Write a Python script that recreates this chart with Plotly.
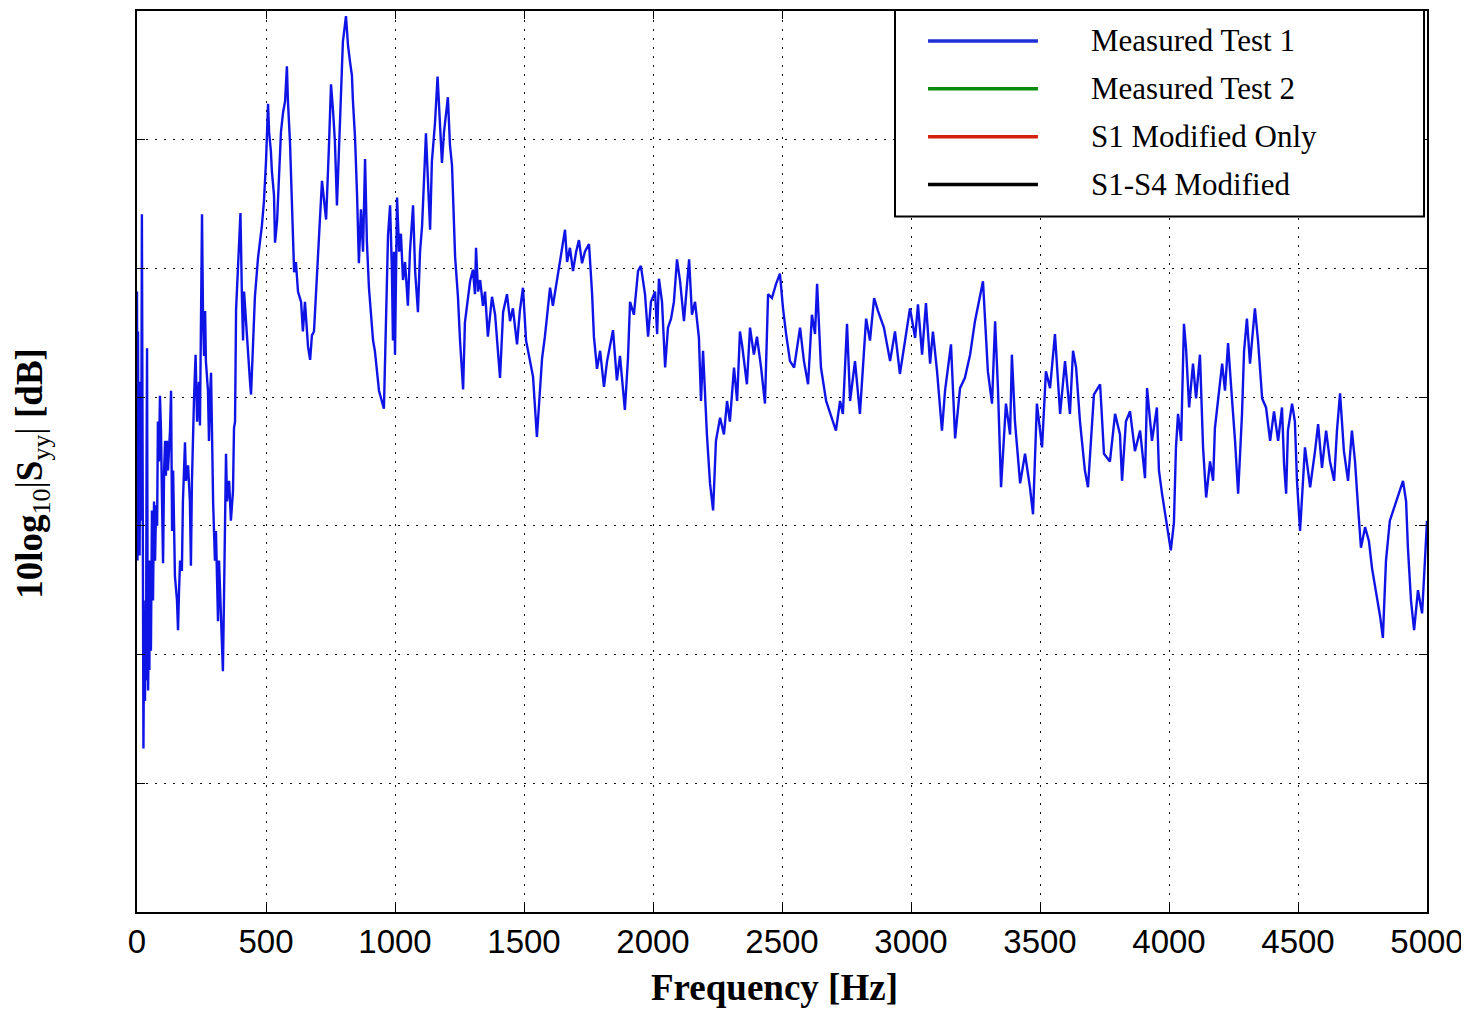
import plotly.graph_objects as go

# ---- data ----
freq_hz = [
    0, 2, 4, 6, 8, 10, 12, 16, 19, 21,
    23, 25, 27, 31, 33, 35, 37, 39, 41, 43,
    47, 48, 50, 54, 58, 62, 66, 70, 74, 78,
    81, 85, 89, 93, 97, 101, 105, 109, 112, 116,
    120, 128, 132, 136, 140, 147, 155, 159, 163, 167,
    174, 178, 186, 190, 198, 205, 209, 213, 221, 227,
    233, 240, 244, 248, 252, 256, 260, 264, 267, 275,
    279, 283, 287, 295, 302, 306, 314, 318, 333, 337,
    345, 349, 357, 364, 372, 376, 380, 384, 395, 401,
    407, 411, 415, 422, 430, 438, 442, 450, 457, 469,
    477, 484, 492, 500, 508, 512, 519, 523, 531, 535,
    543, 550, 558, 566, 574, 581, 585, 593, 601, 609,
    616, 624, 636, 643, 651, 663, 671, 678, 686, 694,
    702, 709, 717, 725, 733, 744, 752, 760, 767, 775,
    783, 795, 798, 810, 818, 826, 833, 837, 845, 853,
    860, 868, 876, 884, 891, 899, 907, 915, 922, 930,
    938, 957, 965, 973, 981, 988, 992, 996, 1000, 1008,
    1016, 1023, 1031, 1039, 1050, 1058, 1070, 1078, 1089, 1097,
    1105, 1112, 1120, 1128, 1136, 1143, 1155, 1165, 1174, 1182,
    1190, 1205, 1213, 1221, 1233, 1244, 1252, 1264, 1271, 1283,
    1291, 1302, 1310, 1314, 1322, 1330, 1341, 1349, 1360, 1376,
    1388, 1407, 1419, 1434, 1446, 1457, 1473, 1484, 1496, 1508,
    1523, 1535, 1550, 1558, 1570, 1581, 1601, 1612, 1628, 1640,
    1659, 1667, 1678, 1690, 1702, 1713, 1725, 1736, 1752, 1764,
    1771, 1783, 1795, 1810, 1822, 1845, 1860, 1872, 1891, 1903,
    1911, 1926, 1942, 1953, 1969, 1981, 1992, 2008, 2016, 2023,
    2035, 2047, 2058, 2070, 2081, 2093, 2105, 2120, 2128, 2140,
    2151, 2163, 2178, 2186, 2194, 2209, 2221, 2233, 2244, 2260,
    2275, 2287, 2298, 2314, 2326, 2337, 2345, 2364, 2376, 2391,
    2403, 2419, 2434, 2446, 2461, 2477, 2492, 2504, 2516, 2531,
    2547, 2570, 2585, 2601, 2616, 2628, 2636, 2651, 2671, 2709,
    2725, 2736, 2752, 2764, 2783, 2802, 2826, 2841, 2857, 2872,
    2895, 2919, 2938, 2957, 2977, 2996, 3016, 3027, 3043, 3058,
    3074, 3085, 3101, 3120, 3132, 3155, 3171, 3190, 3209, 3229,
    3248, 3279, 3298, 3314, 3326, 3337, 3349, 3368, 3384, 3391,
    3403, 3423, 3442, 3461, 3473, 3488, 3508, 3523, 3539, 3558,
    3578, 3597, 3616, 3628, 3640, 3655, 3674, 3686, 3709, 3733,
    3748, 3771, 3791, 3810, 3818, 3833, 3849, 3868, 3888, 3907,
    3915, 3934, 3953, 3961, 3973, 3988, 4007, 4019, 4027, 4035,
    4047, 4058, 4066, 4078, 4093, 4105, 4120, 4132, 4144, 4159,
    4171, 4178, 4190, 4206, 4217, 4229, 4244, 4256, 4268, 4283,
    4291, 4302, 4314, 4333, 4345, 4361, 4376, 4392, 4407, 4423,
    4438, 4446, 4454, 4461, 4477, 4488, 4496, 4508, 4527, 4547,
    4566, 4578, 4593, 4609, 4624, 4640, 4651, 4663, 4678, 4694,
    4709, 4721, 4733, 4744, 4760, 4775, 4787, 4802, 4818, 4829,
    4841, 4856, 4876, 4895, 4907, 4919, 4926, 4938, 4950, 4965,
    4981, 4992, 5000,
]

level_db = [
    48.2, 27.3, 45.1, 30.4, 41.2, 27.7, 35.0, 30.4, 54.2, 35.8,
    22.6, 12.7, 20.3, 16.4, 24.2, 18.0, 35.0, 43.8, 24.2, 17.2,
    24.2, 18.8, 27.3, 20.3, 31.2, 24.2, 31.9, 27.3, 31.6, 30.0,
    38.1, 35.0, 40.1, 37.4, 31.9, 27.1, 34.3, 36.6, 33.9, 36.6,
    34.3, 37.4, 40.5, 29.6, 34.3, 26.1, 24.2, 21.9, 25.0, 27.3,
    26.5, 31.9, 36.5, 33.5, 34.7, 31.9, 26.9, 33.5, 39.9, 43.3,
    38.1, 41.2, 37.8, 46.8, 54.2, 45.9, 43.2, 46.7, 42.8, 40.5,
    36.6, 40.1, 41.9, 31.9, 27.3, 29.6, 22.6, 27.3, 18.7, 24.2,
    35.6, 31.9, 33.5, 30.4, 32.7, 37.6, 38.1, 46.8, 52.0, 54.3,
    47.4, 44.4, 48.2, 45.9, 42.9, 41.2, 40.2, 44.4, 47.8, 50.8,
    52.0, 53.3, 55.2, 58.3, 62.8, 60.6, 59.1, 57.5, 55.7, 52.0,
    53.7, 56.7, 60.6, 62.1, 63.0, 65.7, 63.0, 59.8, 55.2, 49.7,
    50.5, 48.2, 47.4, 45.1, 47.4, 43.9, 42.9, 44.8, 45.1, 47.8,
    50.8, 53.8, 56.8, 55.2, 53.8, 59.5, 64.3, 62.2, 59.9, 54.9,
    59.1, 65.0, 67.6, 69.6, 67.3, 66.0, 65.0, 63.0, 60.2, 55.7,
    50.4, 54.6, 51.3, 58.5, 52.1, 48.5, 46.7, 44.4, 43.6, 42.0,
    40.5, 39.1, 47.1, 52.6, 54.9, 49.8, 44.4, 51.3, 43.3, 55.5,
    51.3, 52.7, 49.1, 50.5, 47.1, 51.3, 54.9, 49.8, 46.6, 51.3,
    53.3, 56.3, 60.5, 56.7, 53.0, 58.3, 61.3, 64.9, 61.0, 58.2,
    60.6, 63.3, 59.6, 58.0, 50.9, 47.8, 44.4, 40.6, 45.8, 47.8,
    49.0, 49.9, 48.0, 51.6, 48.2, 49.1, 47.1, 48.2, 44.7, 47.8,
    46.4, 41.5, 46.6, 48.0, 45.9, 46.9, 44.1, 46.7, 48.5, 44.4,
    42.8, 41.6, 36.9, 39.7, 43.0, 44.7, 48.5, 47.1, 49.1, 50.8,
    53.0, 50.5, 51.6, 49.8, 51.3, 52.2, 50.4, 51.3, 51.9, 48.0,
    44.7, 42.2, 43.6, 40.8, 42.8, 45.2, 41.3, 43.2, 39.0, 43.0,
    47.4, 46.4, 49.8, 50.2, 48.0, 44.7, 47.4, 48.2, 44.9, 49.2,
    47.4, 42.3, 45.4, 46.1, 47.4, 50.7, 49.0, 45.9, 48.0, 50.7,
    46.4, 47.4, 44.6, 39.7, 43.6, 37.1, 33.3, 31.2, 36.6, 38.4,
    37.1, 39.7, 38.1, 42.3, 39.7, 45.1, 44.1, 41.0, 45.4, 43.3,
    44.7, 42.3, 39.5, 48.0, 47.7, 48.8, 49.6, 46.9, 44.9, 42.8,
    42.3, 45.4, 42.8, 41.0, 46.4, 44.9, 48.8, 42.3, 39.7, 37.4,
    39.7, 38.7, 45.7, 39.7, 42.8, 38.7, 46.1, 44.4, 47.7, 46.7,
    45.4, 42.8, 45.1, 41.8, 44.4, 46.9, 44.6, 47.2, 43.3, 47.3,
    42.6, 45.1, 42.0, 37.4, 40.5, 44.1, 36.8, 40.7, 41.5, 43.3,
    45.9, 49.0, 42.0, 39.5, 45.9, 40.7, 33.0, 39.5, 37.1, 43.3,
    38.1, 33.3, 35.6, 33.0, 30.9, 39.5, 36.1, 42.0, 40.7, 44.9,
    38.7, 42.8, 38.7, 43.6, 42.3, 38.1, 34.3, 33.0, 40.2, 41.0,
    35.6, 35.0, 38.7, 37.1, 33.5, 38.1, 38.9, 35.8, 37.4, 33.7,
    40.7, 36.6, 39.2, 34.3, 32.5, 30.4, 28.1, 30.2, 36.1, 38.7,
    36.6, 45.7, 43.8, 39.2, 42.6, 39.9, 43.3, 36.1, 32.2, 35.0,
    33.5, 37.6, 39.9, 42.6, 40.5, 44.2, 39.9, 36.6, 32.5, 38.7,
    43.6, 46.1, 42.6, 46.9, 44.4, 39.9, 39.2, 36.6, 38.9, 36.6,
    39.2, 34.8, 32.5, 37.4, 39.5, 38.1, 33.5, 29.6, 36.1, 33.0,
    35.8, 37.9, 34.5, 37.4, 35.0, 33.5, 37.4, 40.3, 35.8, 33.5,
    37.4, 35.0, 31.4, 28.3, 29.9, 28.8, 26.7, 25.0, 23.0, 21.3,
    27.3, 30.4, 31.6, 32.7, 33.5, 31.9, 28.3, 24.2, 21.9, 25.0,
    23.2, 27.3, 30.4,
]

x_ticks = [0, 500, 1000, 1500, 2000, 2500, 3000, 3500, 4000, 4500, 5000]
x_tick_labels = [str(v) for v in x_ticks]
y_grid = [0, 10, 20, 30, 40, 50, 60, 70]

legend_names = ["Measured Test 1", "Measured Test 2", "S1 Modified Only", "S1-S4 Modified"]
legend_colors = ["#1f2fd6", "#0a8a0a", "#d42010", "#000000"]

fig = go.Figure()
fig.add_trace(go.Scatter(
    x=freq_hz, y=level_db, mode="lines",
    line=dict(color="#0f14e6", width=2.4),
    name=legend_names[0], showlegend=False,
))

axis_common = dict(
    showline=True, linecolor="black", linewidth=1.5, mirror="ticks",
    ticks="inside", ticklen=8, tickwidth=1.2, tickcolor="black",
    showgrid=True, gridcolor="#111111", gridwidth=1.3, griddash="2px,7px",
    zeroline=False,
)

fig.update_xaxes(
    range=[0, 5000], tickmode="array", tickvals=x_ticks, ticktext=x_tick_labels,
    tickfont=dict(family="Liberation Sans, Arial", size=33, color="black"),
    **axis_common,
)
fig.update_yaxes(
    range=[0, 70], tickmode="array", tickvals=y_grid, showticklabels=False,
    **axis_common,
)

# ---- legend drawn in paper coordinates ----
x0_box, x1_box, y0_box, y1_box = 0.5876, 0.9977, 0.7719, 1.0011
fig.add_shape(type="rect", xref="paper", yref="paper",
              x0=x0_box, x1=x1_box, y0=y0_box, y1=y1_box,
              line=dict(color="black", width=2), fillcolor="white", layer="above")
row_y = [0.9668, 0.9136, 0.8605, 0.8073]
for name, col, ry in zip(legend_names, legend_colors, row_y):
    fig.add_shape(type="line", xref="paper", yref="paper",
                  x0=0.6132, x1=0.6984, y0=ry, y1=ry,
                  line=dict(color=col, width=3.5), layer="above")
    fig.add_annotation(xref="paper", yref="paper", x=0.7380, y=ry,
                       text=name, showarrow=False, xanchor="left", yanchor="middle",
                       font=dict(family="Liberation Serif, Times New Roman", size=31, color="black"))

# ---- axis titles ----
fig.add_annotation(xref="paper", yref="paper", x=0.4938, y=-0.084,
                   text="<b>Frequency [Hz]</b>", showarrow=False,
                   xanchor="center", yanchor="middle",
                   font=dict(family="Liberation Serif, Times New Roman", size=37, color="black"))
fig.add_annotation(xref="paper", yref="paper", x=-0.081, y=0.487,
                   text="<b>10log</b><sub>10</sub>|<b>S</b><sub>yy</sub>| <b>[dB]</b>",
                   showarrow=False, textangle=-90, xanchor="center", yanchor="middle",
                   font=dict(family="Liberation Serif, Times New Roman", size=37, color="black"))

# the page body adds an 8 px offset, so the figure is sized/margined to compensate
fig.update_layout(
    width=1461, height=1003,
    margin=dict(l=129, r=42, t=1, b=99),
    paper_bgcolor="white", plot_bgcolor="white",
    showlegend=False,
)

fig.write_html("out.html")
